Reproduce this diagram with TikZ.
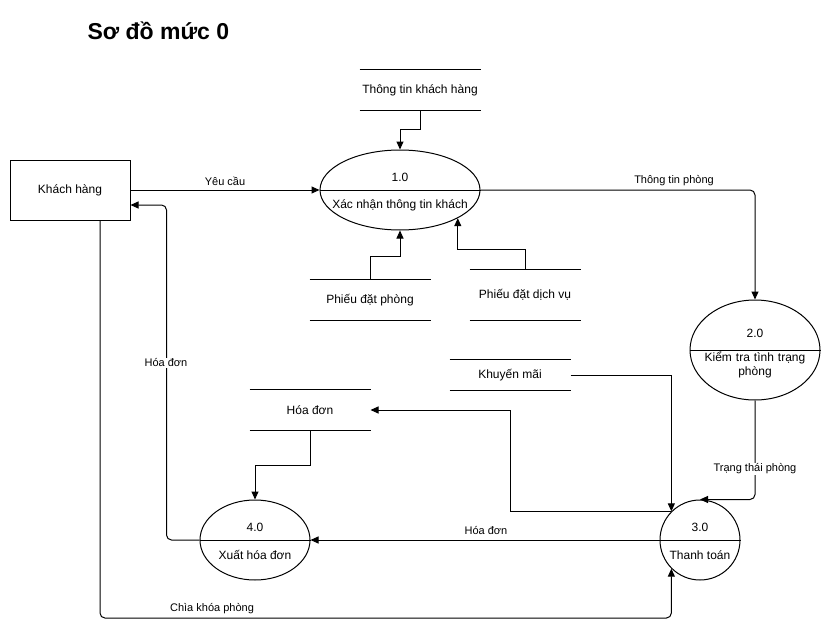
\documentclass[tikz,border=0pt]{standalone}
\usepackage{fontspec}
\setmainfont{Liberation Sans}
\usetikzlibrary{arrows.meta,shapes.geometric}
\begin{document}
\begin{tikzpicture}[x=1pt,y=-1pt,
  line width=1pt,
  proc/.style={draw, ellipse, inner sep=0pt, line width=1pt},
  txt/.style={font=\fontsize{12}{14}\selectfont, inner sep=0pt, align=center},
  lbl/.style={font=\fontsize{11}{13}\selectfont, inner sep=1pt},
  store/.style={minimum width=120pt, minimum height=40pt, inner sep=0pt, font=\fontsize{12}{14}\selectfont},
  flow/.style={draw, line width=1pt, -{Triangle[length=8pt,width=7pt]}},
  rflow/.style={flow, rounded corners=5pt},
]
\useasboundingbox (0,0) rectangle (831,637);
\fill[white] (0,0) rectangle (831,637);

% title
\node[font=\bfseries\fontsize{23}{27}\selectfont, anchor=west, inner sep=0pt] (title) at (87,31) {Sơ đồ mức 0};

% external entity
\node[draw, txt, minimum width=120pt, minimum height=60pt] (kh) at (70,190) {Khách hàng};

% processes
\node[proc, minimum width=160pt, minimum height=80pt] (p1) at (400,190) {};
\node[proc, minimum width=130pt, minimum height=100pt] (p2) at (755,350) {};
\node[proc, minimum width=80pt, minimum height=80pt] (p3) at (700,540) {};
\node[proc, minimum width=110pt, minimum height=80pt] (p4) at (255,540) {};
\foreach \p in {p1,p2,p3,p4} \draw (\p.west) -- (\p.east);

\node[txt] (p1n) at (400,177) {1.0};
\node[txt] (p1t) at (400,205) {Xác nhận thông tin khách};
\node[txt] (p2n) at (755,333) {2.0};
\node[txt, text width=120pt] (p2t) at (755,365) {Kiểm tra tình trạng\\phòng};
\node[txt] (p3n) at (700,527) {3.0};
\node[txt] (p3t) at (700,555) {Thanh toán};
\node[txt] (p4n) at (255,527) {4.0};
\node[txt] (p4t) at (255,555) {Xuất hóa đơn};

% data stores
\node[store] (s1) at (420,90) {Thông tin khách hàng};
\node[store] (s2) at (370,300) {Phiếu đặt phòng};
\node[store, minimum width=110pt, minimum height=50pt] (s3) at (525,295) {Phiếu đặt dịch vụ};
\node[store, minimum height=30pt] (s4) at (510,375) {Khuyến mãi};
\node[store] (s5) at (310,410) {Hóa đơn};
\foreach \s in {s1,s2,s3,s4,s5}
  \draw (\s.north west) -- (\s.north east) (\s.south west) -- (\s.south east);

% flows
\draw[flow] (s1.south) |- ([yshift=20pt]p1.north) -- (p1.north);
\draw[flow] (s2.north) |- ([yshift=-26pt]p1.south) -- (p1.south);
\draw[flow] (s3.north) -- ++(0,-20) -| (p1.-26.45);
\draw[flow] (kh.east) -- (p1.west);
\draw[rflow] (p1.east) -| (p2.north);
\draw[rflow] (p2.south) |- (p3.north);
\draw[flow] (s4.east) -| (p3.135);
\draw[flow] (p3.135) -| ([xshift=140pt]s5.east) -- (s5.east);
\draw[flow] (s5.south) -- ++(0,35) -| (p4.north);
\draw[flow] (p3.west) -- (p4.east);
\draw[rflow] (p4.west) -| ([xshift=36pt,yshift=-15pt]kh.east) -- ([yshift=-15pt]kh.east);
\draw[rflow] ([xshift=30pt]kh.south) |- ([yshift=-49.4pt]p3.-135) -- (p3.-135);

% labels
\node[lbl] (l1) at (225,181) {Yêu cầu};
\node[lbl] (l2) at (674,181) {Thông tin phòng};
\node[lbl, fill=white] (l3) at (755,469) {Trạng thái phòng};
\node[lbl] (l4) at (486,531) {Hóa đơn};
\node[lbl, fill=white] (l5) at (166,363) {Hóa đơn};
\node[lbl] (l6) at (212,609) {Chìa khóa phòng};
\end{tikzpicture}
\end{document}
